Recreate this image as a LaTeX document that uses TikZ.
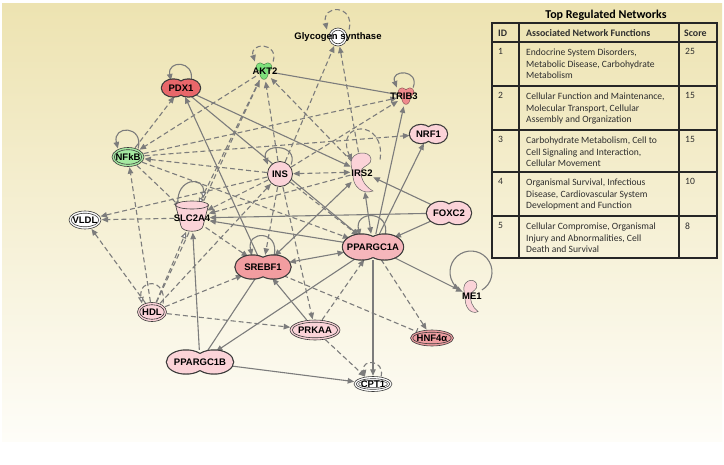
\documentclass[tikz,border=0pt]{standalone}
\usepackage{fontspec}
\setmainfont{Liberation Sans}
\newfontfamily\tabfont{Carlito}
\usetikzlibrary{arrows.meta,shapes.geometric,calc}
\pgfdeclarelayer{bg}
\pgfdeclarelayer{edges}
\pgfsetlayers{bg,edges,main}
\definecolor{ecol}{HTML}{7C7C7C}
\definecolor{outl}{HTML}{3A3A3A}
\definecolor{pinkL}{HTML}{FBD3D8}
\definecolor{pgcA}{HTML}{F6B6BB}
\definecolor{srebfc}{HTML}{F29DA0}
\definecolor{pdxc}{HTML}{E8676A}
\definecolor{hnfc}{HTML}{EE9EA1}
\definecolor{tribc}{HTML}{EF8A8D}
\definecolor{nfkbc}{HTML}{A5EAA1}
\definecolor{aktc}{HTML}{7EE07B}
\definecolor{bgtop}{HTML}{EDE3B1}
\definecolor{bgbot}{HTML}{FEFDF8}
\definecolor{tabtext}{HTML}{2E2E2E}
\tikzset{
  >={Triangle[length=6.5pt,width=5.5pt]},
  anc/.style={ellipse, inner sep=0pt, draw=none},
  lab/.style={inner sep=0pt, font=\bfseries\fontsize{9.5}{10}\selectfont, text=black},
  link/.style={draw=ecol, line width=1.1pt, shorten >=0.5pt, shorten <=0.5pt},
  sl/.style={link},
  sa/.style={link,->},
  sb/.style={link,<->},
  da/.style={link,->,dash pattern=on 5pt off 3pt},
  db/.style={link,<->,dash pattern=on 5pt off 3pt},
  dw/.style={link,dash pattern=on 5pt off 3pt,-{Triangle[length=6.5pt,width=5.5pt,fill=white]}},
  sw/.style={link,-{Triangle[length=6.5pt,width=5.5pt,fill=white]}},
  dinh/.style={link,dash pattern=on 5pt off 3pt,-{Bar[width=7pt]}},
  tline/.style={draw=black!85, line width=1.1pt},
  thead/.style={inner sep=0pt, anchor=west, font=\tabfont\bfseries\fontsize{9.9}{12}\selectfont, text=tabtext},
  tcell/.style={inner sep=0pt, anchor=north west, align=left, font=\tabfont\fontsize{9.6}{11.7}\selectfont, text=tabtext},
}
% peanut: x y a b c fill
\newcommand\peanutshape[6]{%
  \draw[line width=2.4pt, draw=outl] (#1-#5,#2) ellipse [x radius=#3, y radius=#4] (#1+#5,#2) ellipse [x radius=#3, y radius=#4];
  \fill[#6] (#1-#5,#2) ellipse [x radius=#3, y radius=#4] (#1+#5,#2) ellipse [x radius=#3, y radius=#4];
}
% double ellipse: x y rx ry fill
\newcommand\dblell[5]{%
  \filldraw[fill=#5, draw=outl, line width=0.6pt] (#1,#2) ellipse [x radius=#3, y radius=#4];
  \draw[draw=outl, line width=0.6pt] (#1,#2) ellipse [x radius=#3-2.2, y radius=#4-2.2];
}
% kinase glyph: x y fill
\newcommand\kinaseshape[3]{%
  \draw[line width=1.2pt, draw=#3!60!black] (#1-3.8,#2-4) circle [radius=3.8] (#1+3.8,#2-4) circle [radius=3.8] (#1,#2+1) ellipse [x radius=4, y radius=7];
  \fill[#3] (#1-3.8,#2-4) circle [radius=3.8] (#1+3.8,#2-4) circle [radius=3.8] (#1,#2+1) ellipse [x radius=4, y radius=7];
}
% hook glyph (other)
\newcommand\hookshape[4]{%
  \begin{scope}[shift={(#1,#2)}, xscale=#3, yscale=#4]
  \filldraw[fill=pinkL, draw=outl!80, line width=0.5pt]
    (-11,-10) .. controls (-10,-21) and (8,-22) .. (9,-13)
    .. controls (10,-8) and (2,-6) .. (0,-3)
    .. controls (-3,4) and (2,14) .. (11,19)
    .. controls (0,23) and (-9,14) .. (-9,4)
    .. controls (-9,0) and (-11,-4) .. cycle;
  \end{scope}
}
\begin{document}
\begin{tikzpicture}[x=1pt,y=-1pt]
\useasboundingbox (0,0) rectangle (724,464);
\begin{pgfonlayer}{bg}
  \fill[white] (0,0) rectangle (724,464);
  \shade[top color=bgtop, bottom color=bgbot] (2,3) rectangle (722,441);
\end{pgfonlayer}

% ---------- shapes ----------
\filldraw[fill=white, draw=outl, line width=0.6pt] (338,37) circle [radius=9];
\draw[draw=outl, line width=0.6pt] (338,37) circle [radius=6.8];
\kinaseshape{264}{71}{aktc}
\peanutshape{181}{88}{11.5}{8.5}{7.5}{pdxc}
\kinaseshape{406}{96}{tribc}
\peanutshape{428.5}{134}{11}{9}{7.5}{pinkL}
\dblell{128}{157}{16}{9.5}{nfkbc}
\filldraw[fill=pinkL, draw=outl, line width=0.8pt] (280,174) circle [radius=12.5];
\hookshape{362}{172}{1}{1}
% transporter SLC2A4
\filldraw[fill=pinkL, draw=outl, line width=0.6pt] (175.5,205) -- (181,226) .. controls (182,233) and (202,233) .. (203,226) -- (208.5,205) -- cycle;
\filldraw[fill=pinkL, draw=outl, line width=0.6pt] (192,205) ellipse [x radius=16.5, y radius=4];
\dblell{85}{220}{16}{9}{white}
\peanutshape{449}{213}{13.5}{11}{8.5}{pinkL}
\peanutshape{373}{247}{18.5}{12.5}{11.5}{pgcA}
\peanutshape{263}{267}{17}{11.5}{10.5}{srebfc}
\hookshape{471}{296}{0.65}{0.82}
\dblell{152}{312}{14.5}{9.5}{pinkL}
\dblell{315}{330}{25}{10}{pinkL}
\dblell{432}{338}{21.5}{8}{hnfc}
\peanutshape{200}{362}{19}{11.5}{14}{pinkL}
\dblell{373}{384}{19}{7.5}{white}
\draw[draw=outl, line width=0.5pt] (373,384) ellipse [x radius=14.5, y radius=3.6];

% ---------- nodes ----------
\node[anc, minimum width=18pt, minimum height=18pt] (gs) at (338,37) {};
\node[lab] (gs-t) at (338,37) {Glycogen synthase};
\node[anc, minimum width=17pt, minimum height=20pt] (akt) at (264,71) {};
\node[lab] (akt-t) at (265,71) {AKT2};
\node[anc, minimum width=38pt, minimum height=17pt] (pdx) at (181,88) {};
\node[lab] (pdx-t) at (181,88) {PDX1};
\node[anc, minimum width=17pt, minimum height=20pt] (trib) at (406,96) {};
\node[lab] (trib-t) at (404,96) {TRIB3};
\node[anc, minimum width=37pt, minimum height=18pt] (nrf) at (428.5,134) {};
\node[lab] (nrf-t) at (428.5,134) {NRF1};
\node[anc, minimum width=32pt, minimum height=19pt] (nfkb) at (128,157) {};
\node[lab] (nfkb-t) at (128,157) {NFkB};
\node[anc, minimum width=25pt, minimum height=25pt] (ins) at (280,174) {};
\node[lab] (ins-t) at (280,174) {INS};
\node[anc, minimum width=22pt, minimum height=40pt] (irs) at (362,172) {};
\node[lab] (irs-t) at (362,173) {IRS2};
\node[anc, minimum width=34pt, minimum height=28pt] (slc) at (192,218) {};
\node[lab] (slc-t) at (192,218) {SLC2A4};
\node[anc, minimum width=32pt, minimum height=18pt] (vldl) at (85,220) {};
\node[lab] (vldl-t) at (85,220) {VLDL};
\node[anc, minimum width=44pt, minimum height=22pt] (foxc) at (449,213) {};
\node[lab] (foxc-t) at (449,213) {FOXC2};
\node[anc, minimum width=62pt, minimum height=25pt] (pgca) at (373,247) {};
\node[lab] (pgca-t) at (373,247) {PPARGC1A};
\node[anc, minimum width=56pt, minimum height=23pt] (srebf) at (263,267) {};
\node[lab] (srebf-t) at (263,267) {SREBF1};
\node[anc, minimum width=16pt, minimum height=32pt] (me) at (471,296) {};
\node[lab] (me-t) at (472,296) {ME1};
\node[anc, minimum width=29pt, minimum height=19pt] (hdl) at (152,312) {};
\node[lab] (hdl-t) at (152,312) {HDL};
\node[anc, minimum width=50pt, minimum height=20pt] (prkaa) at (315,330) {};
\node[lab] (prkaa-t) at (315,330) {PRKAA};
\node[anc, minimum width=43pt, minimum height=16pt] (hnf) at (432,338) {};
\node[lab] (hnf-t) at (432,338) {HNF4α};
\node[anc, minimum width=66pt, minimum height=23pt] (pgcb) at (200,362) {};
\node[lab] (pgcb-t) at (200,362) {PPARGC1B};
\node[anc, minimum width=38pt, minimum height=15pt] (cpt) at (373,384) {};
\node[lab] (cpt-t) at (373,384) {CPT1};

% ---------- edges ----------
\begin{pgfonlayer}{edges}
% self loops
\draw[da] ($(gs)+(11,-7)$) .. controls +(6,-26) and +(-6,-26) .. ($(gs)+(-11,-7)$);
\draw[da] ($(akt)+(9,-9)$) .. controls +(6,-20) and +(-6,-20) .. ($(akt)+(-9,-9)$);
\draw[sa] ($(pdx)+(10,-7)$) .. controls +(4,-21) and +(-4,-21) .. ($(pdx)+(-10,-7)$);
\draw[sa] ($(trib)+(7,-8)$) .. controls +(7,-19) and +(-7,-19) .. ($(trib)+(-9,-8)$);
\draw[sa] ($(nfkb)+(10,-8)$) .. controls +(6,-24) and +(-6,-24) .. ($(nfkb)+(-10,-8)$);
\draw[sa] ($(ins)+(11,-9)$) .. controls +(8,-22) and +(-8,-22) .. ($(ins)+(-12,-9)$);
\draw[da] ($(irs)+(18,-12)$) .. controls +(6,-42) and +(-18,-40) .. ($(irs)+(-10,-11)$);
\draw[sw] ($(slc)+(-14,-14)$) .. controls +(-2,-26) and +(2,-24) .. ($(slc)+(11,-19)$);
\draw[sa] ($(pgca)+(12,-11)$) .. controls +(6,-26) and +(-6,-26) .. ($(pgca)+(-13,-11)$);
\draw[sa] ($(srebf)+(11,-11)$) .. controls +(6,-26) and +(-6,-26) .. ($(srebf)+(-11,-11)$);
\draw[sa] (481.5,290.2) arc [start angle=60, end angle=-238, radius=21];
\draw[dw] ($(hdl)+(11,-8)$) .. controls +(4,-26) and +(-4,-26) .. ($(hdl)+(-10,-8)$);
\draw[da] ($(cpt)+(8,-7)$) .. controls +(4,-18) and +(-4,-18) .. ($(cpt)+(-8,-7)$);
% solid
\draw[sa] (pdx) -- (irs);
\draw[sa] (srebf) -- (pdx);
\draw[sa] (pdx) -- (pgca);
\draw[sl] (akt) -- (trib);
\draw[sa] (pgca) -- (trib);
\draw[sa] (pgca) -- (nrf);
\draw[sb] (pgca) -- (irs);
\draw[sa] (foxc) -- (irs);
\draw[sa] (foxc) -- (pgca);
\draw[sa] (foxc) -- (slc);
\draw[sa] (pgca) -- (slc);
\draw[sb] (pgca) -- (srebf);
\draw[sb] (irs) -- (srebf);
\draw[sa] (pgca) -- (me);
\draw[sa] (pgca) -- (cpt);
\draw[sa] (pgcb) -- (cpt);
\draw[sa] (pgca) -- (pgcb);
\draw[sl] (pgcb) -- (srebf);
\draw[sa] (pgcb) -- (slc);
\draw[sa] (prkaa) -- (srebf);
% dashed
\draw[da] (nfkb) -- (pdx);
\draw[da] (akt) -- (nfkb);
\draw[dw] (akt) -- (slc);
\draw[da] (hdl) -- (akt);
\draw[da] (ins) -- (akt);
\draw[da] (irs) -- (akt);
\draw[da] (ins) -- (gs);
\draw[da] (irs) -- (gs);
\draw[da] (nfkb) -- (trib);
\draw[da] (ins) -- (trib);
\draw[da] (nfkb) -- (nrf);
\draw[db] (ins) -- (irs);
\draw[da] (ins) -- (nfkb);
\draw[da] (ins) -- (vldl);
\draw[da] (ins) -- (slc);
\draw[da] (ins) -- (srebf);
\draw[da] (ins) -- (prkaa);
\draw[da] (ins) -- (pgca);
\draw[da] (irs) -- (slc);
\draw[da] (slc) -- (srebf);
\draw[da] (slc) -- (vldl);
\draw[da] (nfkb) -- (slc);
\draw[da] (nfkb) -- (pgca);
\draw[da] (hdl) -- (prkaa);
\draw[da] (hdl) -- (srebf);
\draw[da] (hdl) -- (nfkb);
\draw[da] (hdl) -- (vldl);
\draw[dw] (hdl) -- (slc);
\draw[da] (hdl) -- (ins);
\draw[dinh] (srebf) -- (hnf);
\draw[da] (pgca) -- (hnf);
\draw[da] (prkaa) -- (cpt);
\draw[da] (prkaa) -- (pgca);
\end{pgfonlayer}

% ---------- table ----------
\node[inner sep=0pt, font=\tabfont\bfseries\fontsize{12}{14}\selectfont, text=black] (ttl) at (606,15) {Top Regulated Networks};
\draw[tline] (492,23) rectangle (717,258);
\foreach \yy in {42,86,130,172,216} { \draw[tline] (492,\yy) -- (717,\yy); }
\draw[tline] (519,23) -- (519,258);
\draw[tline] (679,23) -- (679,258);
\node[thead] (h1) at (498,33) {ID};
\node[thead] (h2) at (526,33) {Associated Network Functions};
\node[thead] (h3) at (684,33) {Score};
\node[tcell] (i1) at (498,48.5) {1};
\node[tcell] (f1) at (526,48.5) {Endocrine System Disorders,\\Metabolic Disease, Carbohydrate\\Metabolism};
\node[tcell] (s1) at (685,48.5) {25};
\node[tcell] (i2) at (498,92.5) {2};
\node[tcell] (f2) at (526,92.5) {Cellular Function and Maintenance,\\Molecular Transport, Cellular\\Assembly and Organization};
\node[tcell] (s2) at (685,92.5) {15};
\node[tcell] (i3) at (498,136.5) {3};
\node[tcell] (f3) at (526,136.5) {Carbohydrate Metabolism, Cell to\\Cell Signaling and Interaction,\\Cellular Movement};
\node[tcell] (s3) at (685,136.5) {15};
\node[tcell] (i4) at (498,178.5) {4};
\node[tcell] (f4) at (526,178.5) {Organismal Survival, Infectious\\Disease, Cardiovascular System\\Development and Function};
\node[tcell] (s4) at (685,178.5) {10};
\node[tcell] (i5) at (498,222.5) {5};
\node[tcell] (f5) at (526,222.5) {Cellular Compromise, Organismal\\Injury and Abnormalities, Cell\\Death and Survival};
\node[tcell] (s5) at (685,222.5) {8};
\end{tikzpicture}
\end{document}
